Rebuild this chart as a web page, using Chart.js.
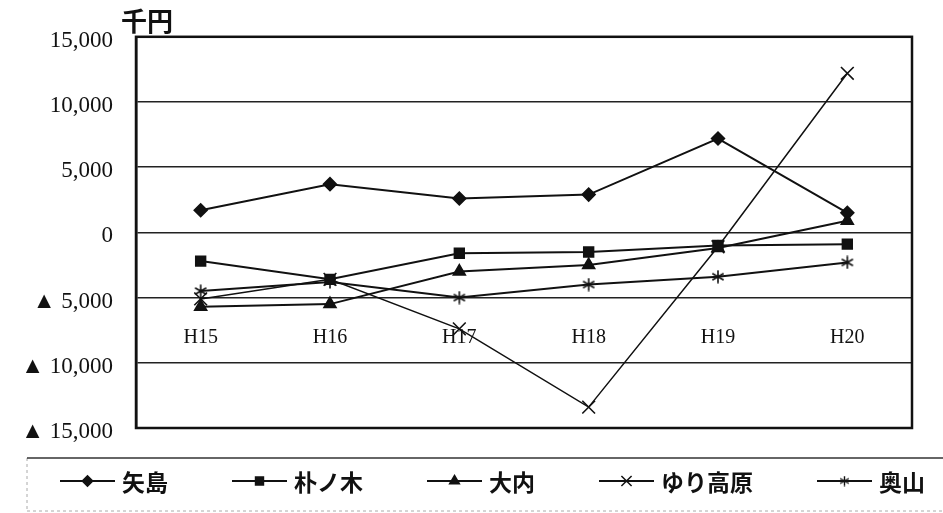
<!DOCTYPE html>
<html>
<head>
<meta charset="utf-8">
<script src="https://cdn.jsdelivr.net/npm/chart.js@4/dist/chart.umd.min.js"></script>
<style>
  html, body { margin: 0; padding: 0; background: #fff; }
  canvas { display: block; }
</style>
</head>
<body>
<canvas id="c" width="943" height="513"></canvas>
<script>
// 年度
const years = ['H15', 'H16', 'H17', 'H18', 'H19', 'H20'];

// 各施設の収支（千円）
const yajima    = [1700, 3700, 2600, 2900, 7200, 1500];
const honoki    = [-2200, -3600, -1600, -1500, -1000, -900];
const ouchi     = [-5700, -5500, -3000, -2500, -1200, 900];
const yuriKogen = [-5100, -3600, -7400, -13400, -1100, 12200];
const okuyama   = [-4500, -3800, -5000, -4000, -3400, -2300];

const seriesNames = ['矢島', '朴ノ木', '大内', 'ゆり高原', '奥山'];

// 縦軸の目盛
const yTicks = [-15000, -10000, -5000, 0, 5000, 10000, 15000];

const INK = '#111';

// 縦線＋斜め2本のアスタリスク型マーカー
function asteriskMarker(size, lw) {
  const c = document.createElement('canvas');
  c.width = size; c.height = size;
  const g = c.getContext('2d');
  g.strokeStyle = INK;
  g.lineWidth = lw;
  const m = size / 2, r = size / 2 - 0.5;
  const dx = r * Math.cos(Math.PI / 6), dy = r * Math.sin(Math.PI / 6);
  g.beginPath();
  g.moveTo(m, m - r); g.lineTo(m, m + r);
  g.moveTo(m - dx, m - dy); g.lineTo(m + dx, m + dy);
  g.moveTo(m - dx, m + dy); g.lineTo(m + dx, m - dy);
  g.stroke();
  return c;
}

// 負の値は「▲」で表示
function fmt(v) {
  const s = Math.abs(v).toLocaleString('en-US');
  return v < 0 ? '▲ ' + s : s;
}

// 描画領域の外枠
const plotFrame = {
  id: 'plotFrame',
  beforeDatasetsDraw(chart) {
    const { ctx, chartArea: a } = chart;
    ctx.save();
    ctx.strokeStyle = INK;
    ctx.lineWidth = 2.5;
    ctx.strokeRect(a.left, a.top, a.right - a.left, a.bottom - a.top);
    ctx.restore();
  }
};

// 単位表示
const unitLabel = {
  id: 'unitLabel',
  afterDraw(chart) {
    const { ctx, chartArea: a } = chart;
    ctx.save();
    ctx.fillStyle = INK;
    ctx.font = 'bold 26px "Noto Sans CJK JP"';
    ctx.textAlign = 'left';
    ctx.textBaseline = 'middle';
    ctx.fillText('千円', a.left - 15, a.top - 16);
    ctx.restore();
  }
};

// 下部の凡例（線＋マーカー＋名称）
const bottomKey = {
  id: 'bottomKey',
  afterDraw(chart, args, opts) {
    const ctx = chart.ctx;
    const W = chart.width;
    ctx.save();
    // 枠
    ctx.strokeStyle = '#aaa';
    ctx.lineWidth = 1;
    ctx.setLineDash([3, 3]);
    ctx.beginPath();
    ctx.moveTo(opts.boxLeft, opts.boxTop); ctx.lineTo(opts.boxLeft, opts.boxBottom);
    ctx.moveTo(opts.boxLeft, opts.boxBottom); ctx.lineTo(W, opts.boxBottom);
    ctx.stroke();
    ctx.setLineDash([]);
    ctx.strokeStyle = '#333';
    ctx.lineWidth = 1.5;
    ctx.beginPath();
    ctx.moveTo(opts.boxLeft, opts.boxTop); ctx.lineTo(W, opts.boxTop);
    ctx.stroke();

    ctx.font = opts.font;
    ctx.textAlign = 'left';
    ctx.textBaseline = 'middle';
    let x = opts.startX;
    const y = opts.y;
    chart.data.datasets.forEach(ds => {
      ctx.strokeStyle = INK;
      ctx.fillStyle = INK;
      ctx.lineWidth = 2;
      ctx.beginPath();
      ctx.moveTo(x, y); ctx.lineTo(x + opts.lineLen, y);
      ctx.stroke();
      const st = ds.legendStyle || ds.pointStyle;
      ctx.lineWidth = 1.5;
      if (Chart.helpers && Chart.helpers.drawPoint) {
        Chart.helpers.drawPoint(ctx, {
          pointStyle: st, radius: ds.legendRadius, borderWidth: 1.5, rotation: 0
        }, x + opts.lineLen / 2, y);
      }
      const tx = x + opts.lineLen + opts.textGap;
      ctx.fillStyle = INK;
      ctx.fillText(ds.label, tx, y + 1);
      x = tx + ctx.measureText(ds.label).width + opts.itemGap;
    });
    ctx.restore();
  }
};

const bigStar = asteriskMarker(14, 1.6);
const smallStar = asteriskMarker(11, 1.4);

function series(i, data, style, radius, extra) {
  return Object.assign({
    label: seriesNames[i],
    data: data,
    borderColor: INK,
    backgroundColor: INK,
    borderWidth: 2,
    pointStyle: style,
    pointRadius: radius,
    pointHoverRadius: radius,
    pointBackgroundColor: INK,
    pointBorderColor: INK,
    pointBorderWidth: 1.5,
    tension: 0,
    fill: false,
    legendRadius: radius * 0.8
  }, extra || {});
}

new Chart(document.getElementById('c'), {
  type: 'line',
  data: {
    labels: years,
    datasets: [
      series(0, yajima, 'rectRot', 6.5),
      series(1, honoki, 'rect', 7),
      series(2, ouchi, 'triangle', 7),
      series(3, yuriKogen, 'crossRot', 9, { borderWidth: 1.5, pointBorderWidth: 1.6 }),
      series(4, okuyama, bigStar, 7, { legendStyle: smallStar })
    ]
  },
  options: {
    responsive: false,
    animation: false,
    events: [],
    layout: { padding: { left: 0, top: 31, right: 31, bottom: 85 } },
    plugins: {
      legend: { display: false },
      tooltip: { enabled: false },
      bottomKey: {
        boxLeft: 27, boxTop: 458, boxBottom: 511,
        startX: 60, y: 481, lineLen: 55, textGap: 7, itemGap: 64,
        font: 'bold 23px "Noto Sans CJK JP"'
      }
    },
    scales: {
      x: {
        type: 'category',
        position: { y: -5000 },
        offset: true,
        grid: { display: false, drawTicks: false },
        border: { display: false },
        ticks: {
          color: INK,
          padding: 28,
          maxRotation: 0,
          font: { family: '"Liberation Serif", "DejaVu Serif", serif', size: 20 }
        }
      },
      y: {
        min: -15000,
        max: 15000,
        afterBuildTicks: s => { s.ticks = yTicks.map(v => ({ value: v })); },
        afterFit: s => { s.width = 136; },
        grid: { color: '#222', lineWidth: 1.5, drawTicks: false },
        border: { display: true, color: INK, width: 2.5 },
        ticks: {
          color: INK,
          padding: 23,
          labelOffset: 4,
          callback: v => fmt(v),
          font: { family: '"Liberation Serif", "Noto Sans CJK JP", serif', size: 23 }
        }
      }
    }
  },
  plugins: [plotFrame, unitLabel, bottomKey]
});
</script>
</body>
</html>
